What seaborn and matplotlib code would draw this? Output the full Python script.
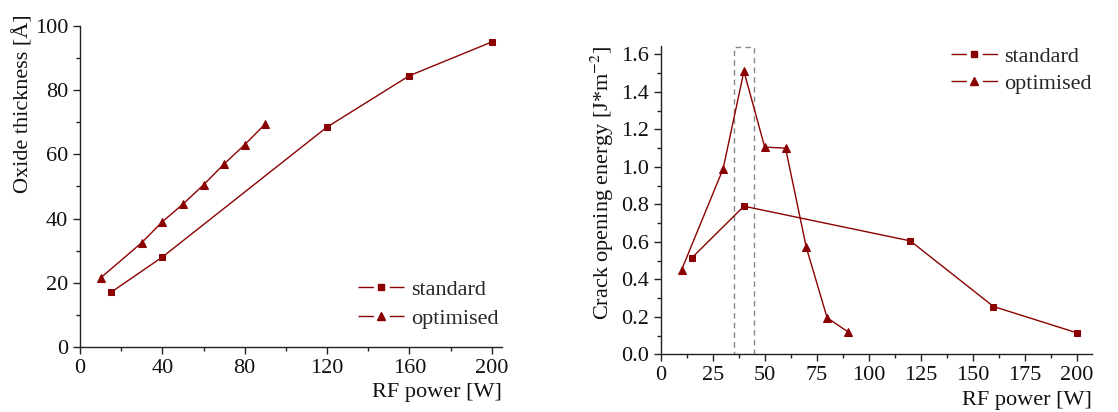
import matplotlib
matplotlib.use("Agg")
import matplotlib.pyplot as plt
import seaborn as sns
import pandas as pd
from matplotlib.ticker import MultipleLocator, FormatStrFormatter
from matplotlib.patches import Rectangle
from matplotlib.lines import Line2D

# ---- data ----
std_power = [15, 40, 120, 160, 200]
std_thick = [17, 28, 68.5, 84.5, 95]
opt_power = [10, 30, 40, 50, 60, 70, 80, 90]
opt_thick = [21.5, 32.5, 39, 44.5, 50.5, 57, 63, 69.5]

std_energy = [0.515, 0.79, 0.605, 0.255, 0.115]
opt_energy = [0.45, 0.99, 1.51, 1.105, 1.10, 0.57, 0.195, 0.12]

series_labels = ["standard", "optimised"]

sns.set_theme(style="ticks")
plt.rcParams["font.family"] = ["Liberation Serif", "DejaVu Serif"]
plt.rcParams["mathtext.fontset"] = "stix"

color = "#8b0000"
FS = 16
MS = {"standard": 5.0, "optimised": 6.0}

def make_df(v_std, v_opt):
    return pd.DataFrame({
        "power": std_power + opt_power,
        "value": v_std + v_opt,
        "series": [series_labels[0]] * len(std_power) + [series_labels[1]] * len(opt_power),
    })

df_thick = make_df(std_thick, opt_thick)
df_energy = make_df(std_energy, opt_energy)

fig = plt.figure(figsize=(11.18, 4.12), dpi=100)
ax1 = fig.add_axes([0.0716, 0.158, 0.449 - 0.0716, 0.937 - 0.158])
ax2 = fig.add_axes([0.591, 0.140, 0.977 - 0.591, 0.889 - 0.140])

for ax, df in ((ax1, df_thick), (ax2, df_energy)):
    for name, mk in zip(series_labels, ["s", "^"]):
        sub = df[df["series"] == name]
        sns.lineplot(data=sub, x="power", y="value", color=color, marker=mk,
                     markersize=MS[name], linewidth=1.0, markeredgecolor=color,
                     sort=False, ax=ax, legend=False)

def style_axes(ax):
    for s in ("top", "right"):
        ax.spines[s].set_visible(False)
    for s in ("left", "bottom"):
        ax.spines[s].set_color("#222222")
        ax.spines[s].set_linewidth(1.0)
    ax.tick_params(which="major", direction="out", length=5, width=1,
                   labelsize=FS, colors="#222222", labelcolor="#111111")
    ax.tick_params(which="minor", direction="out", length=3, width=1, colors="#222222")
    ax.grid(False)

# left
ax1.set_xlim(0, 205)
ax1.set_ylim(0, 100)
ax1.xaxis.set_major_locator(MultipleLocator(40))
ax1.xaxis.set_minor_locator(MultipleLocator(20))
ax1.yaxis.set_major_locator(MultipleLocator(20))
ax1.yaxis.set_minor_locator(MultipleLocator(10))
style_axes(ax1)
ax1.set_xlabel("RF power [W]", fontsize=FS, loc="right", color="#111111")
ax1.set_ylabel("Oxide thickness [Å]", fontsize=FS, loc="top", color="#111111")
ax1.yaxis.set_label_coords(-0.111, 1.035)

# right
ax2.set_xlim(0, 207.5)
ax2.set_ylim(0, 1.646)
ax2.xaxis.set_major_locator(MultipleLocator(25))
ax2.xaxis.set_minor_locator(MultipleLocator(12.5))
ax2.yaxis.set_major_locator(MultipleLocator(0.2))
ax2.yaxis.set_minor_locator(MultipleLocator(0.1))
ax2.yaxis.set_major_formatter(FormatStrFormatter("%.1f"))
style_axes(ax2)
ax2.set_xlabel("RF power [W]", fontsize=FS, loc="right", color="#111111")
ax2.set_ylabel("Crack opening energy [J*m$^{-2}$]", fontsize=FS, loc="top", color="#111111")
ax2.add_patch(Rectangle((35, 0.0), 10, 1.64, fill=False, edgecolor="#888888",
                        linestyle=(0, (4, 3)), linewidth=1.0, zorder=1))

# legends: line broken around the marker
HL = 2.1  # handle length in font-size units
seg = HL * FS * 0.33
gap = HL * FS - 2 * seg
def handles():
    out = []
    for name, mk in zip(series_labels, ["s", "^"]):
        ln = Line2D([], [], color=color, linewidth=1.0, linestyle=(0, (seg, gap, seg, 100)))
        mkr = Line2D([], [], color=color, marker=mk, markersize=MS[name], linestyle="none")
        out.append((ln, mkr))
    return out

ax1.legend(handles(), series_labels, loc="lower right", frameon=False, fontsize=FS,
           handlelength=HL, handletextpad=0.3, labelspacing=0.35,
           bbox_to_anchor=(1.039, -0.005))
ax2.legend(handles(), series_labels, loc="upper right", frameon=False, fontsize=FS,
           handlelength=HL, handletextpad=0.3, labelspacing=0.3,
           bbox_to_anchor=(1.045, 1.064))

fig.savefig("out.png", dpi=100)
